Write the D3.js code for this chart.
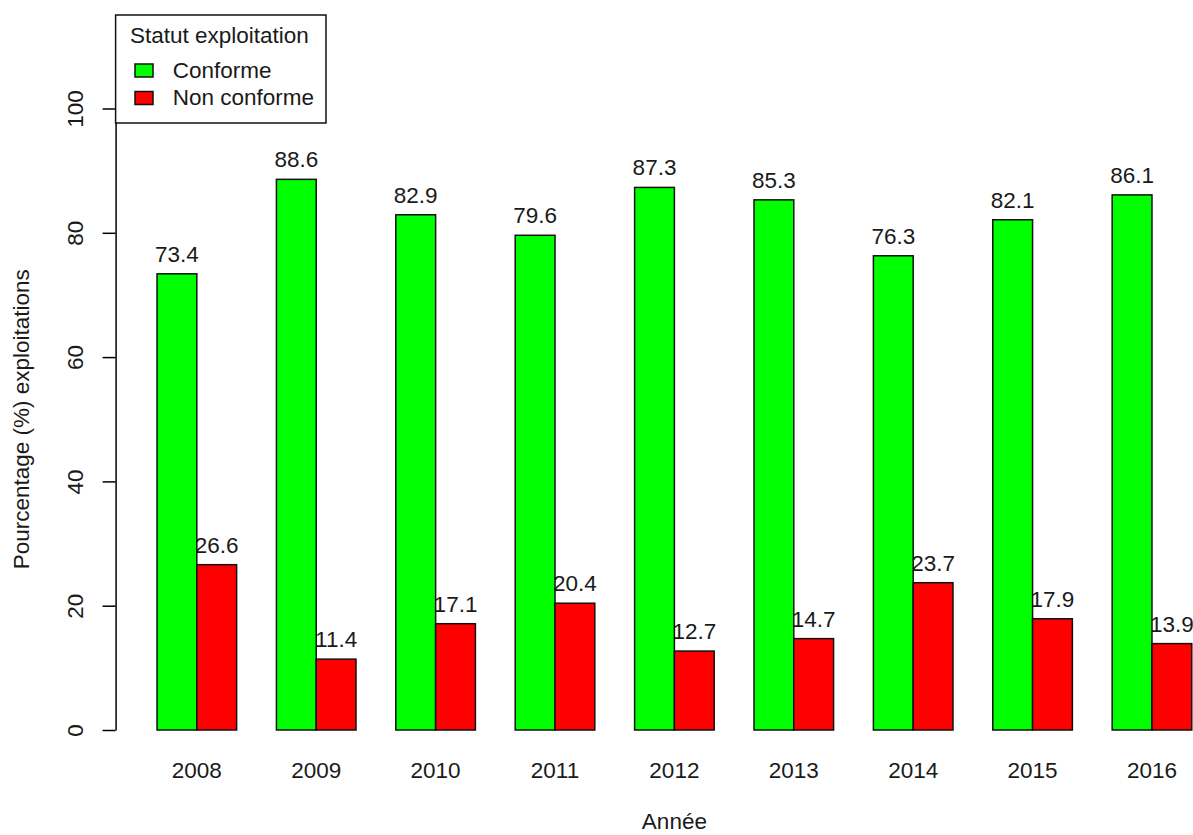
<!DOCTYPE html>
<html>
<head>
<meta charset="utf-8">
<script src="https://cdn.jsdelivr.net/npm/d3@7"></script>
<style>
  html, body { margin: 0; padding: 0; background: #ffffff; }
  svg { display: block; }
  text { font-family: "Liberation Sans", Arial, Helvetica, sans-serif; fill: #1a1a1a; }
</style>
</head>
<body>
<svg id="chart" width="1193" height="835"></svg>
<script>
// ---- Data ----
const years = ["2008", "2009", "2010", "2011", "2012", "2013", "2014", "2015", "2016"];
const conforme = [73.4, 88.6, 82.9, 79.6, 87.3, 85.3, 76.3, 82.1, 86.1];
const nonConforme = [26.6, 11.4, 17.1, 20.4, 12.7, 14.7, 23.7, 17.9, 13.9];
const seriesNames = ["Conforme", "Non conforme"];
const seriesColors = ["#00ff00", "#ff0000"];
const yTicks = [0, 20, 40, 60, 80, 100];
const legendTitle = "Statut exploitation";
const xTitle = "Année";
const yTitle = "Pourcentage (%) exploitations";

// ---- Layout ----
const svg = d3.select("#chart");
const plotLeft = 115.6, plotRight = 1233.2;
const fontSize = 22.5;

const x0 = d3.scaleBand().domain(years).range([plotLeft, plotRight])
  .paddingInner(1 / 3).paddingOuter(0.347);
const x1 = d3.scaleBand().domain(seriesNames).range([0, x0.bandwidth()]);
const y = d3.scaleLinear().domain([0, 100]).range([730, 108.5]);
const color = d3.scaleOrdinal().domain(seriesNames).range(seriesColors);

const rows = years.map((yr, i) => ({
  year: yr,
  values: [
    { key: seriesNames[0], value: conforme[i] },
    { key: seriesNames[1], value: nonConforme[i] }
  ]
}));

// ---- Y axis ----
const yAxis = d3.axisLeft(y).tickValues(yTicks).tickSize(13).tickSizeOuter(0)
  .tickFormat(d3.format("d"));
const gy = svg.append("g").attr("transform", `translate(${plotLeft},0)`).call(yAxis);
gy.select(".domain").attr("stroke", "#000").attr("stroke-width", 1.5);
gy.selectAll(".tick line").attr("stroke", "#000").attr("stroke-width", 1.5);
gy.selectAll(".tick text")
  .attr("transform", "rotate(-90)")
  .attr("x", 0).attr("y", -(plotLeft - 83)).attr("dy", null)
  .attr("text-anchor", "middle")
  .style("font-size", fontSize + "px")
  .style("font-family", '"Liberation Sans", Arial, sans-serif')
  .attr("fill", "#1a1a1a");

// ---- Groups ----
const groups = svg.append("g").selectAll("g.grp").data(rows).join("g")
  .attr("class", "grp")
  .attr("transform", d => `translate(${x0(d.year)},0)`);

// value labels first (bars are drawn over them, as in the original)
groups.selectAll("text.val").data(d => d.values).join("text")
  .attr("class", "val")
  .attr("x", d => x1(d.key) + x1.bandwidth() / 2)
  .attr("y", d => y(d.value) - 12)
  .attr("text-anchor", "middle")
  .style("font-size", fontSize + "px")
  .text(d => d.value.toFixed(1));

groups.selectAll("rect").data(d => d.values).join("rect")
  .attr("x", d => x1(d.key))
  .attr("y", d => y(d.value))
  .attr("width", x1.bandwidth())
  .attr("height", d => y(0) - y(d.value))
  .attr("fill", d => color(d.key))
  .attr("stroke", "#111")
  .attr("stroke-width", 1.5);

// ---- X labels ----
svg.append("g").selectAll("text").data(years).join("text")
  .attr("x", d => x0(d) + x0.bandwidth() / 2)
  .attr("y", 778)
  .attr("text-anchor", "middle")
  .style("font-size", fontSize + "px")
  .text(d => d);

// ---- Axis titles ----
svg.append("text")
  .attr("x", (plotLeft + plotRight) / 2).attr("y", 829)
  .attr("text-anchor", "middle")
  .style("font-size", fontSize + "px")
  .text(xTitle);

svg.append("text")
  .attr("transform", `translate(29,${(y(-4) + y(104)) / 2}) rotate(-90)`)
  .attr("text-anchor", "middle")
  .style("font-size", fontSize + "px")
  .text(yTitle);

// ---- Legend ----
const lg = svg.append("g");
lg.append("rect")
  .attr("x", plotLeft).attr("y", 15)
  .attr("width", 326 - plotLeft).attr("height", 108)
  .attr("fill", "#fff").attr("stroke", "#111").attr("stroke-width", 1.5);
lg.append("text").attr("x", 130).attr("y", 43)
  .style("font-size", fontSize + "px").text(legendTitle);
const items = lg.selectAll("g.item").data(seriesNames).join("g")
  .attr("class", "item")
  .attr("transform", (d, i) => `translate(0,${i * 27.5})`);
items.append("rect")
  .attr("x", 135).attr("y", 64).attr("width", 18).attr("height", 13)
  .attr("fill", d => color(d)).attr("stroke", "#111").attr("stroke-width", 1.5);
items.append("text")
  .attr("x", 172.7).attr("y", 77.5)
  .style("font-size", fontSize + "px")
  .text(d => d);
</script>
</body>
</html>
